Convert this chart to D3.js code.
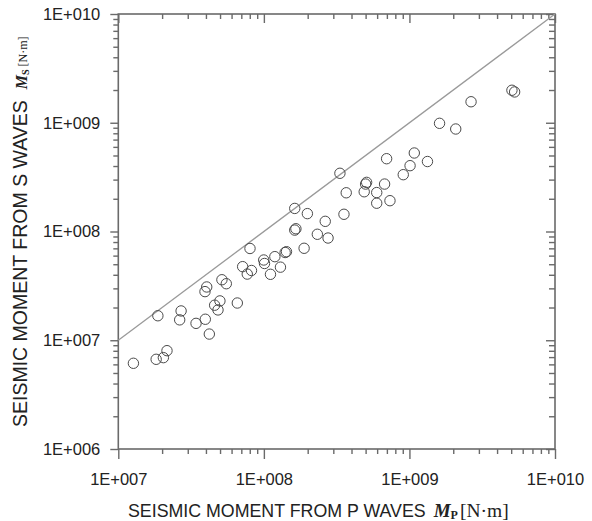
<!DOCTYPE html>
<html>
<head>
<meta charset="utf-8">
<script src="https://cdn.jsdelivr.net/npm/d3@7"></script>
<style>
  html, body { margin: 0; padding: 0; background: #fff; }
  svg { display: block; }
  text { font-family: "Liberation Sans", Arial, sans-serif; fill: #222; }
</style>
</head>
<body>
<svg id="chart" width="592" height="521"></svg>
<script>
// Seismic moment from P waves (Mp) vs from S waves (Ms), N·m
const momentP = [
  1.27e7, 1.87e7, 1.82e7, 2.04e7, 2.16e7, 2.70e7, 2.64e7, 3.42e7, 3.96e7, 4.22e7,
  4.05e7, 3.94e7, 5.15e7, 5.52e7, 4.59e7, 4.99e7, 4.84e7, 6.57e7, 7.15e7, 7.69e7,
  8.22e7, 8.03e7, 9.98e7, 1.01e8, 1.11e8, 1.19e8, 1.30e8, 1.40e8, 1.43e8, 1.89e8,
  1.63e8, 1.63e8, 1.66e8, 1.99e8, 2.33e8, 2.64e8, 2.76e8, 3.33e8, 3.55e8, 3.68e8,
  5.08e8, 5.00e8, 4.89e8, 5.96e8, 5.96e8, 6.75e8, 7.35e8, 6.97e8, 9.07e8, 1.01e9,
  1.08e9, 1.33e9, 1.61e9, 2.08e9, 2.65e9, 5.06e9, 5.28e9
];
const momentS = [
  6.14e6, 1.68e7, 6.68e6, 6.92e6, 8.02e6, 1.86e7, 1.54e7, 1.43e7, 1.56e7, 1.14e7,
  3.09e7, 2.80e7, 3.60e7, 3.31e7, 2.10e7, 2.30e7, 1.90e7, 2.20e7, 4.75e7, 4.06e7,
  4.38e7, 6.98e7, 5.47e7, 5.08e7, 4.04e7, 5.87e7, 4.70e7, 6.41e7, 6.52e7, 7.01e7,
  1.63e8, 1.03e8, 1.06e8, 1.46e8, 9.43e7, 1.24e8, 8.71e7, 3.43e8, 1.44e8, 2.27e8,
  2.83e8, 2.73e8, 2.32e8, 2.28e8, 1.82e8, 2.73e8, 1.92e8, 4.67e8, 3.33e8, 4.03e8,
  5.27e8, 4.40e8, 9.88e8, 8.76e8, 1.56e9, 1.99e9, 1.92e9
];
const xDomain = [1e7, 1e10];
const yDomain = [1e6, 1e10];
const xMajor = [1e7, 1e8, 1e9, 1e10];
const yMajor = [1e6, 1e7, 1e8, 1e9, 1e10];
// Ms = Mp reference line
const lineMp = [1e7, 1e10];

const svg = d3.select("#chart");
const plotL = 118.3, plotR = 555, plotT = 14, plotB = 449;

const x = d3.scaleLog().domain(xDomain).range([plotL, plotR]);
const y = d3.scaleLog().domain(yDomain).range([plotB, plotT]);

function minorTicks(majors) {
  const out = [];
  for (let i = 0; i < majors.length - 1; i++)
    for (let k = 2; k <= 9; k++) out.push(majors[i] * k);
  return out;
}
const xMinor = minorTicks(xMajor);
const yMinor = minorTicks(yMajor);
const expFmt = d => "1E+" + String(Math.round(Math.log10(d))).padStart(3, "0");

const axisColor = "#6a6a6a";
function styleAxis(g) {
  g.select(".domain").remove();
  g.selectAll(".tick line").attr("stroke", axisColor).attr("stroke-width", 1.4);
}

// bottom axis: outward ticks with labels
svg.append("g").attr("transform", `translate(0,${plotB})`)
  .call(d3.axisBottom(x).tickValues(xMinor).tickSize(5).tickFormat(""))
  .call(styleAxis);
const bx = svg.append("g").attr("transform", `translate(0,${plotB})`)
  .call(d3.axisBottom(x).tickValues(xMajor).tickSize(10).tickPadding(14).tickFormat(expFmt))
  .call(styleAxis);
bx.selectAll("text").attr("font-size", 16.5).attr("fill", "#222")
  .style("font-family", "'Liberation Sans', Arial, sans-serif");

// left axis: outward ticks with labels
svg.append("g").attr("transform", `translate(${plotL},0)`)
  .call(d3.axisLeft(y).tickValues(yMinor).tickSize(5).tickFormat(""))
  .call(styleAxis);
const ly = svg.append("g").attr("transform", `translate(${plotL},0)`)
  .call(d3.axisLeft(y).tickValues(yMajor).tickSize(8).tickPadding(10).tickFormat(expFmt))
  .call(styleAxis);
ly.selectAll("text").attr("font-size", 16.5).attr("fill", "#222")
  .style("font-family", "'Liberation Sans', Arial, sans-serif");

// top and right axes: inward ticks, no labels
svg.append("g").attr("transform", `translate(0,${plotT})`)
  .call(d3.axisBottom(x).tickValues(xMinor).tickSize(5).tickFormat(""))
  .call(styleAxis);
svg.append("g").attr("transform", `translate(0,${plotT})`)
  .call(d3.axisBottom(x).tickValues(xMajor).tickSize(9).tickFormat(""))
  .call(styleAxis);
svg.append("g").attr("transform", `translate(${plotR},0)`)
  .call(d3.axisLeft(y).tickValues(yMinor).tickSize(6).tickFormat(""))
  .call(styleAxis);
svg.append("g").attr("transform", `translate(${plotR},0)`)
  .call(d3.axisLeft(y).tickValues(yMajor).tickSize(9).tickFormat(""))
  .call(styleAxis);

// frame
svg.append("rect")
  .attr("x", plotL).attr("y", plotT)
  .attr("width", plotR - plotL).attr("height", plotB - plotT)
  .attr("fill", "none").attr("stroke", axisColor).attr("stroke-width", 1.6);

// 1:1 line
svg.append("path")
  .datum(lineMp)
  .attr("d", d3.line().x(d => x(d)).y(d => y(d)))
  .attr("stroke", "#9a9a9a").attr("stroke-width", 1.3).attr("fill", "none");

// observations
svg.append("g").selectAll("circle")
  .data(momentP.map((p, i) => [p, momentS[i]]))
  .join("circle")
  .attr("cx", d => x(d[0])).attr("cy", d => y(d[1]))
  .attr("r", 5.2)
  .attr("fill", "none").attr("stroke", "#4a4a4a").attr("stroke-width", 1);

// axis titles
const xt = svg.append("text").attr("x", 128).attr("y", 517).attr("font-size", 17.8);
xt.append("tspan").text("SEISMIC MOMENT FROM P WAVES");
xt.append("tspan").attr("dx", 8).attr("font-family", "'Liberation Serif', serif")
  .attr("font-style", "italic").attr("font-weight", "bold").attr("font-size", 19).text("M");
xt.append("tspan").attr("font-family", "'Liberation Serif', serif")
  .attr("font-weight", "bold").attr("font-size", 12).attr("dy", 2).text("P");
xt.append("tspan").attr("font-family", "'Liberation Serif', serif")
  .attr("font-size", 19.5).attr("dy", -2).attr("dx", 2).text("[N·m]");

const yt = svg.append("text").attr("transform", "translate(27,427) rotate(-90)")
  .attr("font-size", 19.5);
yt.append("tspan").text("SEISMIC MOMENT FROM S WAVES");
yt.append("tspan").attr("dx", 11).attr("font-family", "'Liberation Serif', serif")
  .attr("font-style", "italic").attr("font-weight", "bold").attr("font-size", 16).text("M");
yt.append("tspan").attr("font-family", "'Liberation Serif', serif")
  .attr("font-weight", "bold").attr("font-size", 10).attr("dy", 1.5).text("S");
yt.append("tspan").attr("font-family", "'Liberation Serif', serif")
  .attr("font-size", 12).attr("dy", -1.5).attr("dx", 3).text("[N·m]");
</script>
</body>
</html>
